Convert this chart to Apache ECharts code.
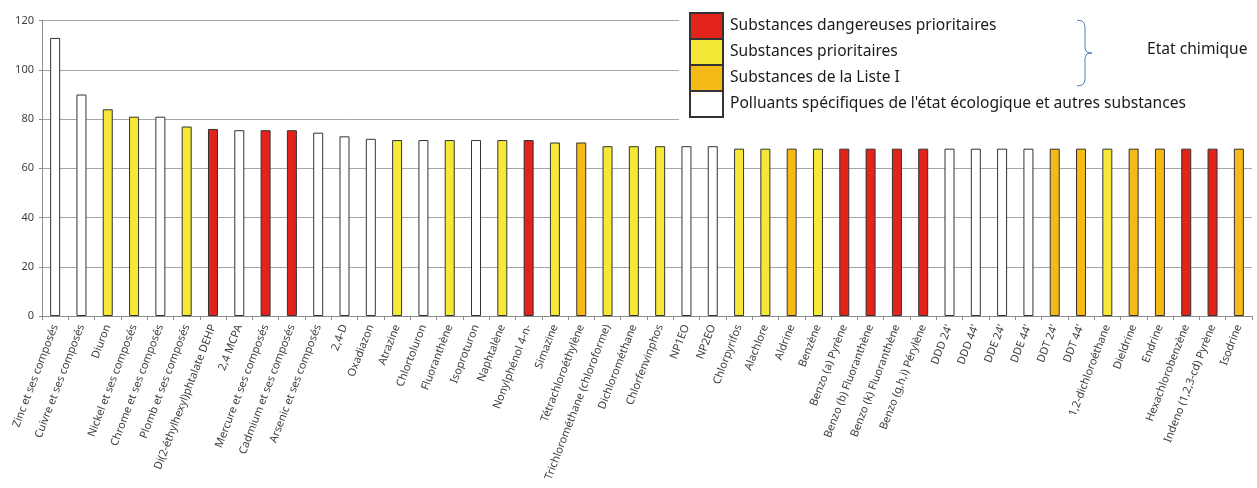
<!DOCTYPE html>
<html><head><meta charset="utf-8">
<script src="https://cdn.jsdelivr.net/npm/echarts@6/dist/echarts.min.js"></script>
<style>html,body{margin:0;padding:0;background:#fff}#c{width:1257px;height:488px}</style>
</head><body><div id="c"></div>
<script>
const categories = ["Zinc et ses composés","Cuivre et ses composés","Diuron","Nickel et ses composés","Chrome et ses composés","Plomb et ses composés","Di(2-éthylhexyl)phtalate DEHP","2,4 MCPA","Mercure et ses composés","Cadmium et ses composés","Arsenic et ses composés","2,4-D","Oxadiazon","Atrazine","Chlortoluron","Fluoranthène","Isoproturon","Naphtalène","Nonylphénol 4-n-","Simazine","Tétrachloroéthylène","Trichlorométhane (chloroforme)","Dichlorométhane","Chlorfenvinphos","NP1EO","NP2EO","Chlorpyrifos","Alachlore","Aldrine","Benzène","Benzo (a) Pyrène","Benzo (b) Fluoranthène","Benzo (k) Fluoranthène","Benzo (g,h,i) Pérylène","DDD 24'","DDD 44'","DDE 24'","DDE 44'","DDT 24'","DDT 44'","1,2-dichloroéthane","Dieldrine","Endrine","Hexachlorobenzène","Indeno (1,2,3-cd) Pyrène","Isodrine"];
const values = [113,90,84,81,81,77,76,75.5,75.5,75.5,74.5,73,72,71.5,71.5,71.5,71.5,71.5,71.5,70.5,70.5,69,69,69,69,69,68,68,68,68,68,68,68,68,68,68,68,68,68,68,68,68,68,68,68,68];
// group per category: R = dangereuses prioritaires, Y = prioritaires, O = Liste I, W = autres
const groups = ["W","W","Y","Y","W","Y","R","W","R","R","W","W","W","Y","W","Y","W","Y","R","Y","O","Y","Y","Y","W","W","Y","Y","O","Y","R","R","R","R","W","W","W","W","O","O","Y","O","O","R","R","O"];
const groupKeys = ["R","Y","O","W"];
const groupNames = ["Substances dangereuses prioritaires","Substances prioritaires","Substances de la Liste I","Polluants spécifiques de l'état écologique et autres substances"];
const groupColors = ["#E2231A","#F5E837","#F6BA17","#FFFFFF"];
const yTicks = [0,20,40,60,80,100,120];

const series = groupKeys.map((k,i)=>({
  name: groupNames[i], type:'bar', barWidth:10, barGap:'-100%',
  itemStyle:{color:groupColors[i], borderColor:'#333', borderWidth:1},
  data: values.map((v,j)=> groups[j]===k ? v : null)
}));

const chart = echarts.init(document.getElementById('c'));
chart.setOption({
  animation:false,
  grid:{left:42,right:5,top:20.7,bottom:172,containLabel:false},
  xAxis:{type:'category',data:categories,
    axisLine:{lineStyle:{color:'#8c8c8c'}},
    axisTick:{show:true,length:4,lineStyle:{color:'#8c8c8c'}},
    axisLabel:{interval:0,rotate:69,fontFamily:'Noto Sans',fontSize:11,color:'#404040',margin:9}},
  yAxis:{type:'value',min:yTicks[0],max:yTicks[yTicks.length-1],interval:20,
    axisLine:{show:true,lineStyle:{color:'#8c8c8c'}},
    axisTick:{show:true,length:3,lineStyle:{color:'#8c8c8c'}},
    axisLabel:{fontFamily:'Noto Sans',fontSize:11,color:'#404040',margin:8},
    splitLine:{lineStyle:{color:'#a6a6a6',width:1}}},
  legend:{orient:'vertical',left:689,top:12,itemWidth:33,itemHeight:26,itemGap:-2,padding:0,
    icon:'rect',data:groupNames,selectedMode:false,
    textStyle:{fontFamily:'Noto Sans',fontSize:15.6,color:'#1a1a1a',padding:[5,0,0,2]}},
  graphic:[
    {type:'rect',z:1,shape:{x:679,y:0,width:578,height:130},style:{fill:'#fff'}},
    {type:'polyline',z:5,shape:{points:[[1077,20],[1082,21],[1084,23],[1085,27],[1085,48],[1086,51],[1088,52.5],[1092,53],[1088,53.5],[1086,55],[1085,58],[1085,80],[1084,83],[1082,85],[1077,86]]},style:{fill:null,stroke:'#4f81bd',lineWidth:1}},
    {type:'text',z:5,left:1147,top:42,style:{text:'Etat chimique',font:'15.6px "Noto Sans"',fill:'#1a1a1a'}}
  ],
  series
});
</script></body></html>
